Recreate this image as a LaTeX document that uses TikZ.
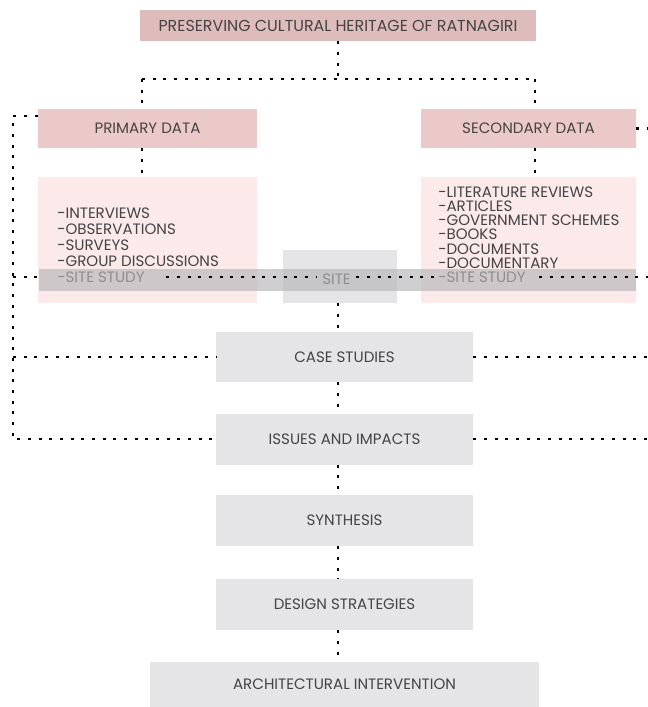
\documentclass[tikz,border=0pt]{standalone}
\usepackage{fontspec}
\setmainfont{Poppins}
\usepackage{tikz}
\usetikzlibrary{positioning,calc}
\definecolor{rosetitle}{RGB}{223,188,188}
\definecolor{rosehead}{RGB}{236,201,201}
\definecolor{roselist}{RGB}{252,233,233}
\definecolor{paleg}{RGB}{229,229,231}
\definecolor{bandgrey}{RGB}{182,182,184}
\definecolor{inkgrey}{RGB}{68,68,68}
\newcommand{\px}{0.75pt}

\begin{document}
\begin{tikzpicture}[x=0.75pt,y=-0.75pt,
    box/.style={rectangle,inner sep=0pt,text=inkgrey,font=\fontsize{11.3}{13}\selectfont},
    rosebox/.style={box,fill=rosehead},
    greybox/.style={box,fill=paleg},
    listtext/.style={anchor=west,inner sep=0pt,text=inkgrey,font=\fontsize{11.3}{13}\selectfont},
    dotline/.style={line width=2.2pt,dash pattern=on 2.2pt off 5.8pt,color=black}]
    \useasboundingbox (0,0) rectangle (648,707);
    % helper points for the rails
    \coordinate (lrail) at (13,116);
    \coordinate (rim) at (648,0);
    \coordinate (spine) at (338,0);
    \coordinate (lfork) at (142,79);
    \coordinate (rfork) at (535,79);

    % top of the tree
    \node[rosebox,fill=rosetitle,font=\fontsize{11.9}{13}\selectfont,minimum width=396*\px,minimum height=31*\px] (title) at (338,25.5) {PRESERVING CULTURAL HERITAGE OF RATNAGIRI};
    \node[rosebox,minimum width=219*\px,minimum height=39*\px] (primary) at (147.5,128.5) {PRIMARY DATA};
    \node[rosebox,minimum width=215*\px,minimum height=39*\px] (secondary) at (528.5,128.5) {SECONDARY DATA};
    \node[box,fill=roselist,minimum width=219*\px,minimum height=126*\px] (plist) at (147.5,240) {};
    \node[box,fill=roselist,minimum width=215*\px,minimum height=126*\px] (slist) at (528.5,240) {};

    % primary sources
    \foreach \i/\item in {0/INTERVIEWS,1/OBSERVATIONS,2/SURVEYS,3/GROUP DISCUSSIONS,4/SITE STUDY}{
        \pgfmathsetmacro{\ypos}{213+\i*16}
        \node[listtext] (pitem\i) at (57,\ypos) {-\item};
    }
    % secondary sources
    \foreach \i/\item in {0/LITERATURE REVIEWS,1/ARTICLES,2/GOVERNMENT SCHEMES,3/BOOKS,4/DOCUMENTS,5/DOCUMENTARY,6/SITE STUDY}{
        \pgfmathsetmacro{\ypos}{192.4+\i*14.1}
        \node[listtext] (sitem\i) at (438,\ypos) {-\item};
    }

    % grey steps
    \node[greybox,minimum width=114*\px,minimum height=53*\px] (sitebox) at (340,276.5) {};
    \node[box] (site) at (336.5,279) {SITE};
    \node[greybox,minimum width=257*\px,minimum height=50*\px] (case) at (344.5,357) {CASE STUDIES};
    \node[greybox,minimum width=257*\px,minimum height=51*\px] (issues) at (344.5,439) {ISSUES AND IMPACTS};
    \node[greybox,minimum width=257*\px,minimum height=51*\px] (synth) at (344.5,520.5) {SYNTHESIS};
    \node[greybox,minimum width=257*\px,minimum height=51*\px] (design) at (344.5,604.5) {DESIGN STRATEGIES};
    \node[greybox,minimum width=389*\px,minimum height=45*\px] (arch) at (344.5,684.5) {ARCHITECTURAL INTERVENTION};

    % site study band laid over both lists
    \node[rectangle,inner sep=0pt,fill=bandgrey,fill opacity=0.65,minimum width=597*\px,minimum height=22*\px] (band) at (337.5,280) {};

    % title to the two data branches
    \draw[dotline] (title.south) -- (title.south |- lfork);
    \draw[dotline] (lfork) -- (rfork);
    \draw[dotline] (lfork) -- (lfork |- primary.north);
    \draw[dotline] (rfork) -- (rfork |- secondary.north);
    \draw[dotline] (primary.south -| lfork) -- (plist.north -| lfork);
    \draw[dotline] (secondary.south -| rfork) -- (slist.north -| rfork);
    % left rail
    \draw[dotline] (lrail -| primary.west) -- (lrail) -- (lrail |- issues.west) -- (issues.west);
    \draw[dotline] (lrail |- case.west) -- (case.west);
    \draw[dotline] (lrail |- pitem4) -- (pitem4 -| band.west);
    % band line through the site
    \draw[dotline,shorten <=16pt,shorten >=4pt] (pitem4.east) -- (pitem4.east -| site.west);
    \draw[dotline,shorten <=4pt] (site.east |- sitem6) -- (sitem6.west);
    % right side, running off the edge
    \draw[dotline] (secondary.east) -- (secondary.east -| rim);
    \draw[dotline,shorten <=10pt] (sitem6.east) -- (sitem6.east -| rim);
    \draw[dotline] (case.east) -- (case.east -| rim);
    \draw[dotline] (issues.east) -- (issues.east -| rim);
    % spine
    \draw[dotline] (sitebox.south -| spine) -- (case.north -| spine);
    \draw[dotline] (case.south -| spine) -- (issues.north -| spine);
    \draw[dotline] (issues.south -| spine) -- (synth.north -| spine);
    \draw[dotline] (synth.south -| spine) -- (design.north -| spine);
    \draw[dotline] (design.south -| spine) -- (arch.north -| spine);
\end{tikzpicture}
\end{document}
